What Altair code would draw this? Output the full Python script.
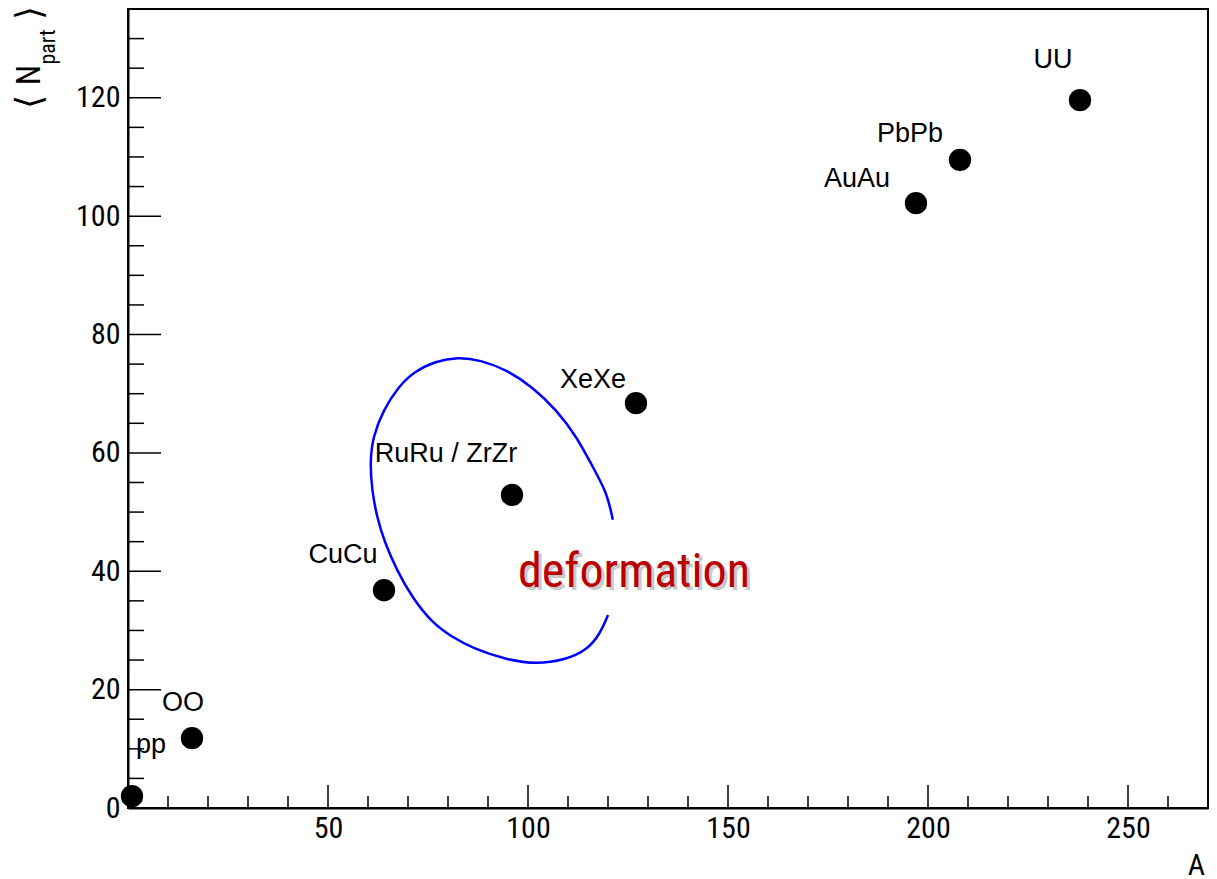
import altair as alt
import pandas as pd

# ---- data ----
systems = ["pp", "OO", "CuCu", "RuRu / ZrZr", "XeXe", "AuAu", "PbPb", "UU"]
mass_A = [1, 16, 64, 96, 127, 197, 208, 238]
npart = [2.0, 11.8, 36.8, 52.9, 68.4, 102.2, 109.5, 119.6]

# traced outline of the blue (open) ellipse, in data units
arc_A = [121.2, 119.8, 116.2, 112.2, 107.2, 101.2, 94.8, 88.0, 82.5, 76.8, 71.5,
         67.5, 63.8, 61.2, 60.5, 61.0, 62.2, 64.2, 67.2, 71.0, 76.0, 81.0,
         86.2, 94.8, 102.2, 109.2, 114.8, 118.0, 120.0]
arc_N = [48.7, 53.2, 57.6, 62.7, 67.2, 71.1, 74.0, 75.7, 76.2, 75.5, 73.7,
         71.1, 67.2, 62.7, 58.3, 53.7, 49.2, 44.8, 40.2, 35.6, 31.3, 28.9,
         27.0, 25.0, 24.3, 25.0, 26.7, 29.4, 32.6]

x_major_ticks = [50, 100, 150, 200, 250]
x_minor_ticks = [10, 20, 30, 40, 60, 70, 80, 90, 110, 120, 130, 140,
                 160, 170, 180, 190, 210, 220, 230, 240, 260]
y_major_ticks = [0, 20, 40, 60, 80, 100, 120]
y_minor_ticks = [5, 10, 15, 25, 30, 35, 45, 50, 55, 65, 70, 75, 85, 90, 95,
                 105, 110, 115, 125, 130]

# ---- layout / style ----
W, H = 1080, 799
NARROW = "Roboto Condensed, Liberation Sans, Arial, sans-serif"
SANS = "Liberation Sans, Arial, Helvetica, sans-serif"
BRACKET = "DejaVu Sans, Noto Sans, sans-serif"

label_offsets = {  # pixel offsets of each label from its point
    "pp": (19, -43), "OO": (-9, -27), "CuCu": (-41, -27),
    "RuRu / ZrZr": (-66, -33), "XeXe": (-43, -15), "AuAu": (-59, -16),
    "PbPb": (-50, -18), "UU": (-27, -32),
}

xs = alt.Scale(domain=[0, 270], nice=False, zero=False)
ys = alt.Scale(domain=[0, 135], nice=False, zero=False)

pts_df = pd.DataFrame({"system": systems, "A": mass_A, "Npart": npart})
arc_df = pd.DataFrame({"A": arc_A, "N": arc_N, "k": list(range(len(arc_A)))})
one = pd.DataFrame({"k": [0]})

x_axis = alt.Axis(values=x_major_ticks, ticks=False, grid=False, domainColor="black",
                  domainWidth=2, labelFont=NARROW, labelFontSize=30, labelColor="black",
                  labelPadding=5, labelOverlap=False, labelFlush=False, title="")
y_axis = alt.Axis(values=y_major_ticks, ticks=False, grid=False, domainColor="black",
                  domainWidth=2, labelFont=NARROW, labelFontSize=30, labelColor="black",
                  labelPadding=8, labelOverlap=False, title="")


def X(field):
    return alt.X(field, scale=xs, axis=x_axis)


def Y(field):
    return alt.Y(field, scale=ys, axis=y_axis)


points = alt.Chart(pts_df).mark_circle(size=500, color="black", opacity=1).encode(
    x=X("A:Q"), y=Y("Npart:Q"))

layers = [points]


def xtick_layer(vals, length):
    return alt.Chart(pd.DataFrame({"t": vals})).mark_rule(color="black", strokeWidth=1.5).encode(
        x=X("t:Q"), y=alt.value(H), y2=alt.value(H - length))


def ytick_layer(vals, length):
    return alt.Chart(pd.DataFrame({"t": vals})).mark_rule(color="black", strokeWidth=1.5).encode(
        y=Y("t:Q"), x=alt.value(0), x2=alt.value(length))


layers += [xtick_layer(x_major_ticks, 23), xtick_layer(x_minor_ticks, 12),
           ytick_layer(y_major_ticks, 33), ytick_layer(y_minor_ticks, 16)]

arc = alt.Chart(arc_df).mark_line(color="#0000ff", strokeWidth=2.5, interpolate="basis").encode(
    x=X("A:Q"), y=Y("N:Q"), order="k:Q")
layers.append(arc)

for s, (dx, dy) in label_offsets.items():
    layers.append(
        alt.Chart(pts_df).transform_filter(alt.datum.system == s).mark_text(
            dx=dx, dy=dy, align="center", baseline="alphabetic", font=SANS,
            fontSize=27, color="black").encode(
            x=X("A:Q"), y=Y("Npart:Q"), text="system:N")
    )

# "deformation" with a soft shadow
layers.append(alt.Chart(one).mark_text(align="left", baseline="alphabetic", font=NARROW,
                                       fontSize=48, color="#888888", opacity=0.45).encode(
    x=alt.value(393), y=alt.value(581), text=alt.value("deformation")))
layers.append(alt.Chart(one).mark_text(align="left", baseline="alphabetic", font=NARROW,
                                       fontSize=48, color="#bb0000").encode(
    x=alt.value(390), y=alt.value(578), text=alt.value("deformation")))


# y-axis title  < N_part >  (rotated)
def rot_text(txt, x, y, size, font):
    return alt.Chart(one).mark_text(angle=270, align="center", baseline="middle",
                                    font=font, fontSize=size, color="black").encode(
        x=alt.value(x), y=alt.value(y), text=alt.value(txt))


layers += [rot_text("\u27e8", -98, 93, 36, BRACKET),
           rot_text("N", -98, 66, 33, NARROW),
           rot_text("part", -80, 38, 22, NARROW),
           rot_text("\u27e9", -98, 4, 36, BRACKET)]

# x-axis title
layers.append(alt.Chart(one).mark_text(align="right", baseline="alphabetic", font=NARROW,
                                       fontSize=30, color="black").encode(
    x=alt.value(1077), y=alt.value(866), text=alt.value("A")))

chart = alt.layer(*layers).properties(
    width=W, height=H,
    padding={"left": 128, "top": 9, "right": 9, "bottom": 71},
    autosize=alt.AutoSizeParams(type="none"),
    background="white",
).configure_view(stroke="black", strokeWidth=2)

chart.save("out.html", embed_options={"renderer": "svg", "actions": False})
